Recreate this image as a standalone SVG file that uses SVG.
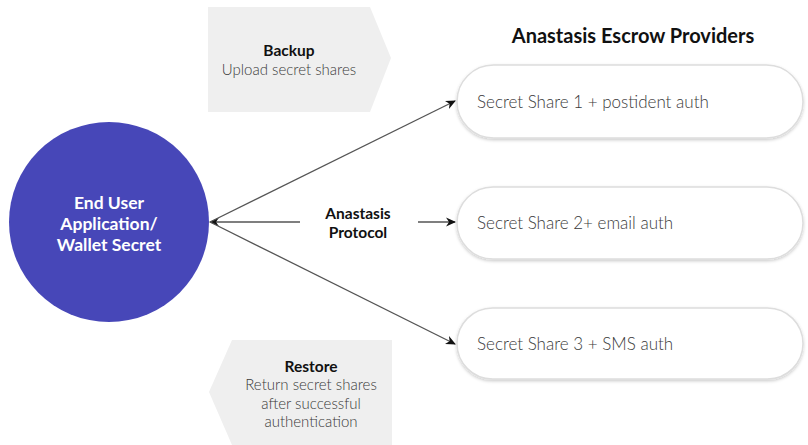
<svg xmlns="http://www.w3.org/2000/svg" width="808" height="445" viewBox="0 0 808 445">
<style>
text{font-family:Lato,"Open Sans","Liberation Sans",sans-serif}
.b{font-weight:bold;fill:#111}
.g{fill:#3a3a3a;font-weight:300}
.pill{fill:#fff;stroke:#ddd;stroke-width:1.5}
.ln{stroke:#555;stroke-width:1.3;fill:none}
</style>
<defs>
<marker id="ah" markerWidth="10" markerHeight="10" refX="9" refY="5" orient="auto" markerUnits="userSpaceOnUse"><path d="M0,0.5 L10,5 L0,9.5 L3,5 Z" fill="#111"/></marker>
<filter id="sh" x="-10%" y="-20%" width="120%" height="150%"><feDropShadow dx="0" dy="1.5" stdDeviation="1.5" flood-color="#000" flood-opacity="0.2"/></filter>
</defs>
<rect width="808" height="445" fill="#fff"/>
<g id="backup">
<path d="M208,7 L370,7 L391,58 L370,112 L208,112 Z" fill="#efefef"/>
<text x="289" y="56" text-anchor="middle" class="b" font-size="15.5">Backup</text>
<text x="289" y="75" text-anchor="middle" class="g" font-size="15">Upload secret shares</text>
</g>
<g id="restore">
<path d="M232,340 L392,340 L392,445 L232,445 L209,392 Z" fill="#efefef"/>
<text x="311" y="372" text-anchor="middle" class="b" font-size="15.5">Restore</text>
<text x="311" y="390" text-anchor="middle" class="g" font-size="15">Return secret shares</text>
<text x="311" y="409" text-anchor="middle" class="g" font-size="15">after successful</text>
<text x="311" y="427" text-anchor="middle" class="g" font-size="15">authentication</text>
</g>
<g id="title">
<text x="633" y="43" text-anchor="middle" class="b" font-size="20">Anastasis Escrow Providers</text>
</g>
<g id="user">
<circle cx="109" cy="222" r="100" fill="#4747b8"/>
<text x="109" y="209" text-anchor="middle" font-size="17.5" font-weight="bold" fill="#fff">End User</text>
<text x="109" y="230" text-anchor="middle" font-size="17.5" font-weight="bold" fill="#fff">Application/</text>
<text x="109" y="251" text-anchor="middle" font-size="17.5" font-weight="bold" fill="#fff">Wallet Secret</text>
</g>
<g id="share1">
<rect x="457" y="65" width="346" height="73" rx="36.5" class="pill" filter="url(#sh)"/>
<text x="477" y="108" class="g" font-size="17">Secret Share 1 + postident auth</text>
</g>
<g id="share2">
<rect x="457" y="187" width="346" height="72" rx="36" class="pill" filter="url(#sh)"/>
<text x="477" y="229" class="g" font-size="17">Secret Share 2+ email auth</text>
</g>
<g id="share3">
<rect x="457" y="308" width="346" height="71" rx="35.5" class="pill" filter="url(#sh)"/>
<text x="477" y="350" class="g" font-size="17">Secret Share 3 + SMS auth</text>
</g>
<g id="protocol">
<text x="358" y="219" text-anchor="middle" class="b" font-size="15.5">Anastasis</text>
<text x="358" y="238" text-anchor="middle" class="b" font-size="15.5">Protocol</text>
</g>
<g id="connectors">
<line x1="300" y1="222" x2="210" y2="222" class="ln" marker-end="url(#ah)"/>
<line x1="210" y1="222" x2="455" y2="101" class="ln" marker-end="url(#ah)"/>
<line x1="210" y1="222" x2="455" y2="344" class="ln" marker-end="url(#ah)"/>
<line x1="418" y1="222" x2="455" y2="222" class="ln" marker-end="url(#ah)"/>
</g>
</svg>
